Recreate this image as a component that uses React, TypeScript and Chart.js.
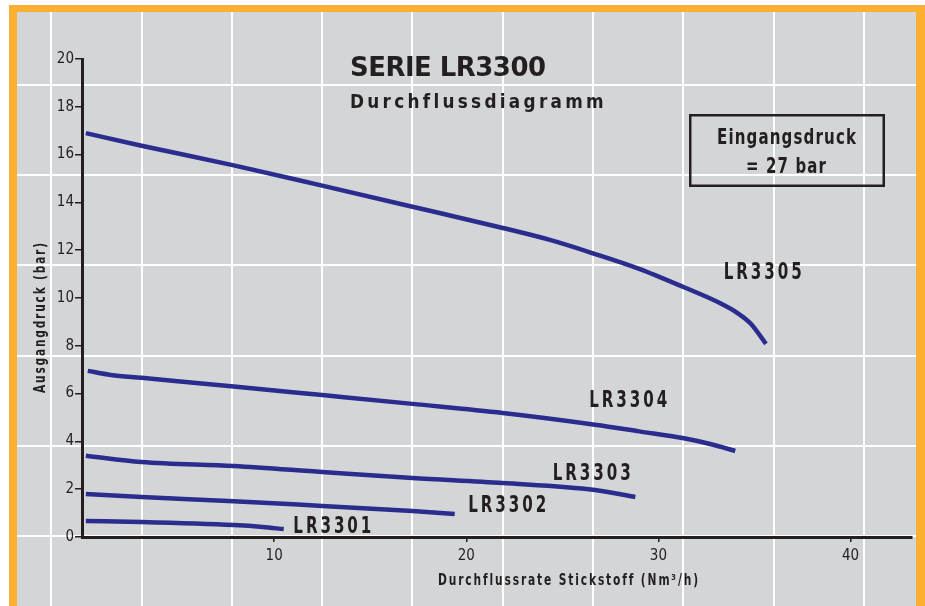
import React, { useEffect, useRef } from "react";
import { Chart, registerables } from "chart.js";

Chart.register(...registerables);

// ---- Data ----
const seriesNames = ["LR3305", "LR3304", "LR3303", "LR3302", "LR3301"];

const lr3305X = [0.2, 3.1, 7.9, 12.5, 17.2, 21.9, 24.4, 26.6, 29.0, 31.3, 33.3, 34.1, 34.8, 35.6];
const lr3305Y = [16.9, 16.37, 15.55, 14.7, 13.82, 12.93, 12.42, 11.87, 11.22, 10.46, 9.75, 9.38, 8.93, 8.08];

const lr3304X = [0.3, 1.5, 3.1, 7.9, 12.5, 17.2, 21.9, 26.7, 29.0, 31.4, 32.8, 34.0];
const lr3304Y = [6.95, 6.78, 6.66, 6.3, 5.94, 5.57, 5.19, 4.7, 4.42, 4.12, 3.87, 3.6];

const lr3303X = [0.2, 3.1, 7.9, 12.5, 17.2, 21.9, 26.7, 28.8];
const lr3303Y = [3.4, 3.14, 2.97, 2.72, 2.47, 2.26, 1.97, 1.67];

const lr3302X = [0.2, 3.1, 7.9, 12.5, 17.2, 19.4];
const lr3302Y = [1.8, 1.67, 1.5, 1.3, 1.09, 0.96];

const lr3301X = [0.2, 3.1, 7.9, 9.4, 10.5];
const lr3301Y = [0.67, 0.63, 0.5, 0.42, 0.33];

const xTickValues = [10, 20, 30, 40];
const yTickStep = 2;
const xMin = 0;
const xMax = 43.2;
const yMin = 0;
const yMax = 20;

const titleText = "SERIE LR3300";
const subtitleText = "Durchflussdiagramm";
const boxLine1 = "Eingangsdruck";
const boxLine2 = "= 27 bar";
const xAxisTitle = "Durchflussrate Stickstoff (Nm³/h)";
const yAxisTitle = "Ausgangdruck (bar)";

// label anchors (data units: left edge x, baseline y)
const labelAnchorX = [33.4, 26.4, 24.5, 20.1, 11.0];
const labelAnchorY = [10.8, 5.44, 2.38, 1.05, 0.17];

// background decorative grid (data units)
const bgGridXStart = -1.6;
const bgGridXStep = 4.7;
const bgGridYStart = 0.05;
const bgGridYStep = 3.77;

// ---- Styles ----
const LINE_COLOR = "#2b2d8e";
const INK = "#231f20";
const ORANGE = "#fbb034";
const GRAY = "#d4d5d7";
const COND = '"DejaVu Sans Condensed", "DejaVu Sans", sans-serif';
const HEAVY = '"DejaVu Sans", sans-serif';

function zip(xs: number[], ys: number[]) {
  return xs.map((x, i) => ({ x, y: ys[i] }));
}

// draws text with a letter tracking, then squeezes/stretches it horizontally to a target width
function drawFitted(
  ctx: CanvasRenderingContext2D,
  text: string,
  left: number,
  baseline: number,
  font: string,
  targetWidth: number,
  tracking: number
) {
  ctx.save();
  ctx.font = font;
  (ctx as any).letterSpacing = "0px";
  const w0 = ctx.measureText(text).width;
  const w = w0 + tracking * (text.length - 1);
  (ctx as any).letterSpacing = tracking + "px";
  ctx.textAlign = "left";
  ctx.textBaseline = "alphabetic";
  ctx.translate(left, baseline);
  ctx.scale(targetWidth / w, 1);
  ctx.fillText(text, 0, 0);
  ctx.restore();
}

const decorPlugin = {
  id: "decor",
  beforeDraw(chart: any) {
    const { ctx, width, height } = chart;
    const xs = chart.scales.x;
    const ys = chart.scales.y;
    ctx.save();
    ctx.fillStyle = "#ffffff";
    ctx.fillRect(0, 0, width, height);
    ctx.fillStyle = ORANGE;
    ctx.fillRect(9, 5, width - 9, height - 5);
    const gL = 17, gT = 12, gR = 916;
    ctx.fillStyle = GRAY;
    ctx.fillRect(gL, gT, gR - gL, height - gT);
    ctx.beginPath();
    ctx.rect(gL, gT, gR - gL, height - gT);
    ctx.clip();
    ctx.strokeStyle = "#ffffff";
    ctx.lineWidth = 2;
    for (let v = bgGridXStart; v < xMax + 5; v += bgGridXStep) {
      const px = Math.round(xs.getPixelForValue(v));
      ctx.beginPath();
      ctx.moveTo(px, gT);
      ctx.lineTo(px, height);
      ctx.stroke();
    }
    for (let v = bgGridYStart; v < yMax + 2; v += bgGridYStep) {
      const py = Math.round(ys.getPixelForValue(v));
      ctx.beginPath();
      ctx.moveTo(gL, py);
      ctx.lineTo(gR, py);
      ctx.stroke();
    }
    ctx.restore();
  },
  afterDraw(chart: any) {
    const { ctx } = chart;
    const xs = chart.scales.x;
    const ys = chart.scales.y;
    ctx.save();
    ctx.fillStyle = INK;
    // title
    drawFitted(ctx, titleText, 350, 76, `bold 26px ${HEAVY}`, 196, -0.5);
    drawFitted(ctx, subtitleText, 350, 108, `bold 20px ${COND}`, 253, 3.5);
    // box
    ctx.strokeStyle = INK;
    ctx.lineWidth = 2.5;
    ctx.strokeRect(690.25, 115.25, 193.5, 70.5);
    drawFitted(ctx, boxLine1, 717, 144, `bold 22px ${COND}`, 139, 1.5);
    drawFitted(ctx, boxLine2, 746, 173, `bold 22px ${COND}`, 80, 1.5);
    // series labels
    seriesNames.forEach((name, i) => {
      const px = xs.getPixelForValue(labelAnchorX[i]);
      const py = ys.getPixelForValue(labelAnchorY[i]);
      drawFitted(ctx, name, px, py, `bold 23px ${COND}`, 78, 4);
    });
    // x axis title
    drawFitted(ctx, xAxisTitle, 438, 585, `bold 16px ${COND}`, 259, 2.5);
    // y axis title
    ctx.save();
    ctx.translate(45, 393);
    ctx.rotate(-Math.PI / 2);
    drawFitted(ctx, yAxisTitle, 0, 0, `bold 16px ${COND}`, 150, 2.5);
    ctx.restore();
    ctx.restore();
  },
};

export default function App() {
  const canvasRef = useRef<HTMLCanvasElement | null>(null);

  useEffect(() => {
    document.body.style.margin = "0";
    const canvas = canvasRef.current;
    if (!canvas) return;
    const mk = (label: string, xs: number[], ys: number[]) => ({
      label,
      data: zip(xs, ys),
      borderColor: LINE_COLOR,
      backgroundColor: LINE_COLOR,
      borderWidth: 4.5,
      pointRadius: 0,
      fill: false,
      cubicInterpolationMode: "monotone" as const,
      borderCapStyle: "butt" as const,
      borderJoinStyle: "round" as const,
    });
    const chart = new Chart(canvas, {
      type: "line",
      data: {
        datasets: [
          mk(seriesNames[0], lr3305X, lr3305Y),
          mk(seriesNames[1], lr3304X, lr3304Y),
          mk(seriesNames[2], lr3303X, lr3303Y),
          mk(seriesNames[3], lr3302X, lr3302Y),
          mk(seriesNames[4], lr3301X, lr3301Y),
        ],
      },
      options: {
        responsive: false,
        animation: false,
        devicePixelRatio: 1,
        layout: { padding: { top: 59, left: 0, right: 13, bottom: 29 } },
        plugins: {
          legend: { display: false },
          tooltip: { enabled: false },
          title: { display: false },
        },
        scales: {
          x: {
            type: "linear",
            min: xMin,
            max: xMax,
            afterFit: (s: any) => {
              s.height = 40;
            },
            afterBuildTicks: (s: any) => {
              s.ticks = xTickValues.map((v) => ({ value: v }));
            },
            border: { display: true, color: INK, width: 3 },
            grid: {
              display: true,
              drawOnChartArea: false,
              drawTicks: true,
              tickLength: 5,
              color: INK,
              lineWidth: 1.5,
            },
            ticks: {
              padding: 5,
              color: INK,
              font: { family: COND, size: 15 },
              maxRotation: 0,
              autoSkip: false,
            },
          },
          y: {
            type: "linear",
            min: yMin,
            max: yMax,
            afterFit: (s: any) => {
              s.width = 82;
            },
            border: { display: true, color: INK, width: 3 },
            grid: {
              display: true,
              drawOnChartArea: false,
              drawTicks: true,
              tickLength: 7,
              color: INK,
              lineWidth: 1.5,
            },
            ticks: {
              stepSize: yTickStep,
              padding: 1,
              color: INK,
              font: { family: COND, size: 15 },
              autoSkip: false,
            },
          },
        },
      },
      plugins: [decorPlugin],
    } as any);
    return () => chart.destroy();
  }, []);

  return (
    <div style={{ width: 925, height: 606 }}>
      <canvas ref={canvasRef} width={925} height={606} style={{ width: 925, height: 606, display: "block" }} />
    </div>
  );
}
